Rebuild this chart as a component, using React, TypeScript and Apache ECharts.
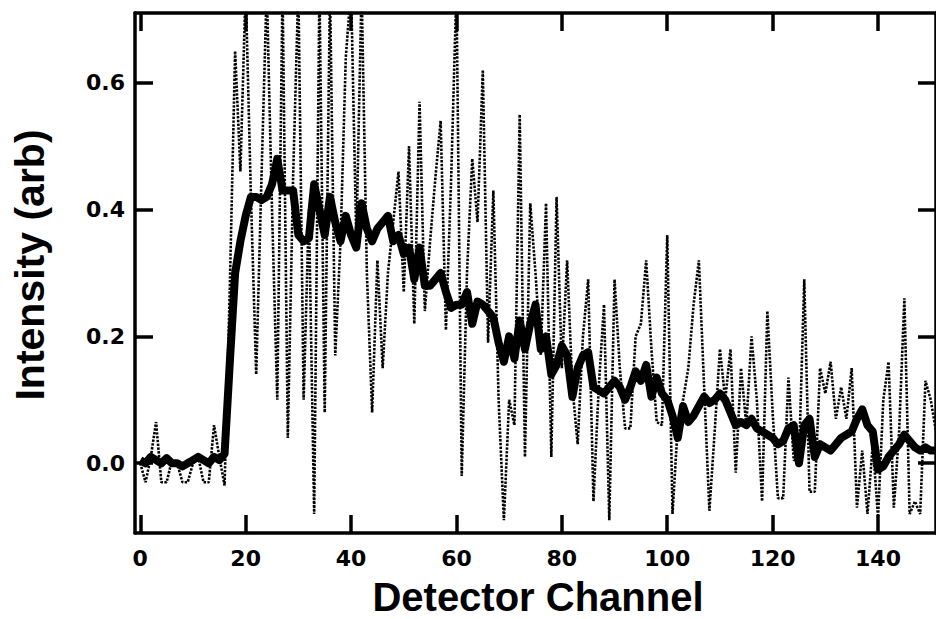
import React, { useEffect, useRef } from "react";
import * as echarts from "echarts";

// Raw detector intensity (dotted trace), one value per channel 0..151
const rawIntensity = [
  0.0, -0.03, 0.01, 0.065, -0.03, -0.03, 0.005, 0.0, -0.03, -0.03,
  0.0, 0.01, -0.03, -0.03, 0.06, 0.01, -0.035, 0.28, 0.65, 0.46,
  0.75, 0.42, 0.14, 0.45, 0.75, 0.4, 0.1, 0.75, 0.04, 0.45,
  0.75, 0.1, 0.4, -0.08, 0.75, 0.08, 0.75, 0.17, 0.35, 0.64,
  0.75, 0.35, 0.75, 0.3, 0.08, 0.32, 0.15, 0.3, 0.38, 0.46,
  0.27, 0.5, 0.22, 0.57, 0.24, 0.35, 0.45, 0.54, 0.21, 0.45,
  0.75, -0.02, 0.3, 0.48, 0.38, 0.62, 0.19, 0.43, 0.1, -0.09,
  0.1, 0.06, 0.55, 0.01, 0.41, 0.3, 0.17, 0.41, 0.01, 0.42,
  0.15, 0.32, 0.12, 0.03, 0.2, 0.29, -0.06, 0.12, 0.25, -0.09,
  0.29, 0.15, 0.055, 0.055, 0.2, 0.22, 0.32, 0.18, 0.065, 0.06,
  0.36, -0.08, 0.06, 0.1, 0.15, 0.25, 0.32, 0.12, -0.075, 0.05,
  0.18, 0.1, 0.18, -0.015, 0.15, 0.06, 0.2, 0.1, -0.06, 0.24,
  0.08, -0.055, -0.055, 0.135, 0.005, 0.005, 0.29, -0.045, -0.045, 0.15,
  0.11, 0.16, 0.07, 0.12, 0.07, 0.15, -0.07, 0.02, -0.08, 0.03,
  -0.085, 0.1, 0.16, -0.07, 0.05, 0.26, -0.08, -0.06, -0.08, 0.13,
  0.1, 0.05,
];

// Smoothed intensity (thick solid trace), one value per channel 0..151
const smoothIntensity = [
  0.005, 0.0, 0.01, 0.005, 0.0, 0.008, 0.0, 0.0, -0.005, 0.0,
  0.005, 0.01, 0.005, 0.0, 0.01, 0.005, 0.015, 0.16, 0.3, 0.35,
  0.39, 0.42, 0.42, 0.415, 0.42, 0.44, 0.48, 0.43, 0.43, 0.43,
  0.36, 0.35, 0.355, 0.44, 0.4, 0.36, 0.42, 0.38, 0.35, 0.39,
  0.36, 0.34, 0.41, 0.37, 0.35, 0.37, 0.38, 0.39, 0.35, 0.36,
  0.33, 0.34, 0.29, 0.34, 0.28, 0.28, 0.29, 0.3, 0.27, 0.245,
  0.25, 0.25, 0.27, 0.22, 0.255, 0.25, 0.24, 0.23, 0.19, 0.16,
  0.2, 0.165, 0.225, 0.18, 0.22, 0.25, 0.18, 0.2, 0.14, 0.155,
  0.185, 0.17, 0.105, 0.15, 0.17, 0.175, 0.12, 0.115, 0.11, 0.12,
  0.13, 0.12, 0.1, 0.12, 0.145, 0.13, 0.155, 0.105, 0.135, 0.11,
  0.1, 0.075, 0.04, 0.09, 0.065, 0.075, 0.09, 0.105, 0.095, 0.1,
  0.11, 0.1, 0.08, 0.06, 0.065, 0.06, 0.07, 0.055, 0.05, 0.045,
  0.04, 0.03, 0.035, 0.055, 0.06, 0.0, 0.06, 0.07, 0.01, 0.03,
  0.025, 0.02, 0.03, 0.04, 0.045, 0.05, 0.07, 0.085, 0.06, 0.05,
  -0.01, -0.005, 0.01, 0.02, 0.03, 0.045, 0.035, 0.025, 0.02, 0.025,
  0.02, 0.02,
];

const xTicks = [0, 20, 40, 60, 80, 100, 120, 140];
const yTicks = [0, 0.2, 0.4, 0.6];
const xTitle = "Detector Channel";
const yTitle = "Intensity (arb)";

export default function App() {
  const ref = useRef<HTMLDivElement>(null);

  useEffect(() => {
    if (!ref.current) return;
    const chart = echarts.init(ref.current, null, { renderer: "svg" });
    const channels = rawIntensity.map((_, i) => i);
    const axisLine = { show: true, onZero: false, lineStyle: { color: "#000", width: 3.5 } };
    const tickStyle = { color: "#000", width: 3.5 };
    const labelFont = {
      fontFamily: "DejaVu Sans",
      fontWeight: "bold" as const,
      fontSize: 22,
      color: "#000",
    };
    const xCommon = { type: "value" as const, min: -1, max: 151, splitLine: { show: false } };
    const yCommon = { type: "value" as const, min: -0.11, max: 0.71, splitLine: { show: false } };

    chart.setOption({
      animation: false,
      backgroundColor: "#fff",
      grid: { left: 135, right: -9, top: 13, bottom: 86, containLabel: false },
      xAxis: [
        {
          ...xCommon,
          position: "bottom",
          axisLine,
          axisTick: { show: true, inside: true, length: 18, lineStyle: tickStyle, customValues: xTicks },
          axisLabel: { ...labelFont, margin: 14, customValues: xTicks, formatter: (v: number) => String(v) },
        },
        {
          ...xCommon,
          position: "top",
          axisLine,
          axisTick: { show: true, inside: true, length: 18, lineStyle: tickStyle, customValues: xTicks },
          axisLabel: { show: false },
        },
      ],
      yAxis: [
        {
          ...yCommon,
          position: "left",
          axisLine,
          axisTick: { show: true, inside: true, length: 18, lineStyle: tickStyle, customValues: yTicks },
          axisLabel: { ...labelFont, margin: 10, customValues: yTicks, formatter: (v: number) => v.toFixed(1) },
        },
        {
          ...yCommon,
          position: "right",
          axisLine,
          axisTick: { show: true, inside: true, length: 18, lineStyle: tickStyle, customValues: yTicks },
          axisLabel: { show: false },
        },
      ],
      series: [
        {
          type: "line",
          name: "raw",
          xAxisIndex: 0,
          yAxisIndex: 0,
          data: channels.map((c, i) => [c, rawIntensity[i]]),
          symbol: "none",
          clip: true,
          lineStyle: { color: "#000", width: 2.6, type: [2.4, 1.4] },
          z: 2,
        },
        {
          type: "line",
          name: "smooth",
          xAxisIndex: 0,
          yAxisIndex: 0,
          data: channels.map((c, i) => [c, smoothIntensity[i]]),
          symbol: "none",
          clip: true,
          lineStyle: { color: "#000", width: 8, join: "round" },
          z: 3,
        },
      ],
      graphic: [
        {
          type: "text",
          x: 538,
          y: 597,
          style: {
            text: xTitle,
            fontFamily: "Liberation Sans, Arial, sans-serif",
            fontWeight: "bold",
            fontSize: 40,
            fill: "#000",
            align: "center",
            verticalAlign: "middle",
          },
        },
        {
          type: "text",
          x: 30,
          y: 265,
          rotation: Math.PI / 2,
          style: {
            text: yTitle,
            fontFamily: "Liberation Sans, Arial, sans-serif",
            fontWeight: "bold",
            fontSize: 41,
            fill: "#000",
            align: "center",
            verticalAlign: "middle",
          },
        },
      ],
    });
    return () => chart.dispose();
  }, []);

  return (
    <div
      ref={ref}
      style={{ position: "fixed", left: 0, top: 0, width: 936, height: 619, background: "#fff" }}
    />
  );
}
